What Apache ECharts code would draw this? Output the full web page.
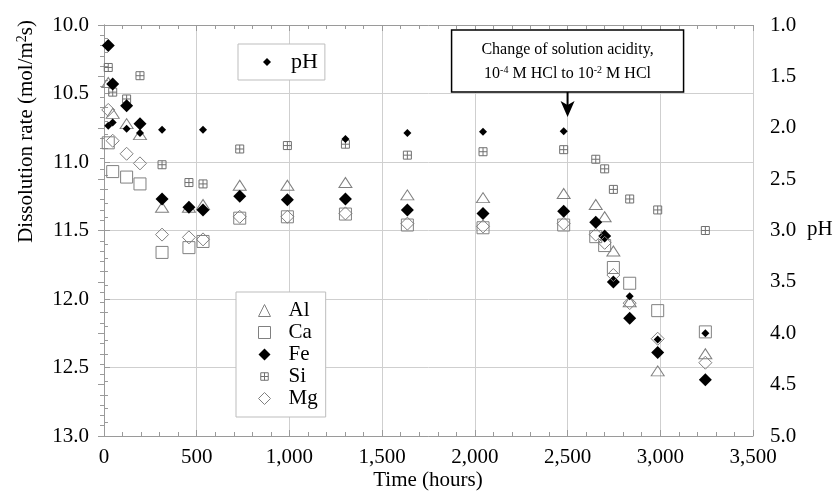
<!DOCTYPE html>
<html>
<head>
<meta charset="utf-8">
<script src="https://cdn.jsdelivr.net/npm/echarts@6/dist/echarts.min.js"></script>
<style>
  html, body { margin: 0; padding: 0; background: #fff; }
  #chart { width: 833px; height: 493px; }
</style>
</head>
<body>
<div id="chart"></div>
<script>
// Sampling times (hours) shared by all series
var hours = [23, 47, 122, 194, 313, 458, 534, 732, 989, 1302, 1636, 2044, 2479, 2652, 2700, 2747, 2835, 2986, 3243];

// Dissolution rates, -log(mol/m2s)
var rateAl = [10.42, 10.645, 10.72, 10.80, 11.33, 11.33, 11.31, 11.17, 11.17, 11.15, 11.24, 11.26, 11.23, 11.31, 11.40, 11.65, 12.02, 12.525, 12.40];
var rateCa = [10.86, 11.07, 11.11, 11.16, 11.66, 11.625, 11.58, 11.41, 11.40, 11.38, 11.46, 11.48, 11.46, 11.545, 11.61, 11.77, 11.885, 12.085, 12.24];
var rateFe = [10.15, 10.43, 10.59, 10.72, 11.27, 11.33, 11.35, 11.25, 11.275, 11.27, 11.35, 11.375, 11.36, 11.44, 11.54, 11.875, 12.14, 12.39, 12.59];
var rateSi = [10.31, 10.49, 10.54, 10.37, 11.02, 11.15, 11.16, 10.905, 10.88, 10.87, 10.95, 10.925, 10.91, 10.98, 11.05, 11.20, 11.27, 11.35, 11.50];
var rateMg = [10.62, 10.845, 10.94, 11.01, 11.53, 11.55, 11.565, 11.40, 11.40, 11.375, 11.45, 11.47, 11.45, 11.53, 11.59, 11.825, 12.03, 12.29, 12.465];

// Solution pH
var pH = [1.98, 1.95, 2.01, 2.05, 2.02, null, 2.02, null, null, 2.11, 2.05, 2.04, 2.035, null, null, null, 3.64, 4.06, 4.00];

// Axis ticks
var xTicks = [0, 500, 1000, 1500, 2000, 2500, 3000, 3500];
var rateTicks = [10.0, 10.5, 11.0, 11.5, 12.0, 12.5, 13.0];
var pHTicks = [1.0, 1.5, 2.0, 2.5, 3.0, 3.5, 4.0, 4.5, 5.0];

var arrowHours = 2500;

function pairs(vals) {
  var out = [];
  for (var i = 0; i < hours.length; i++) {
    if (vals[i] !== null) out.push([hours[i], vals[i]]);
  }
  return out;
}

var SERIF = '"Liberation Serif", "DejaVu Serif", serif';
var GREY = '#808080';
var FRAME = '#9a9a9a';
var GRID = '#cfcfcf';

var siPath = 'path://M0,0H10V10H0Z M5,0V10 M0,5H10';
// legend icon for Si: same glyph inside a wider empty box so it shows smaller
var siIcon = 'path://M-3,-3 M13,13 M0,0H10V10H0Z M5,0V10 M0,5H10';

function fmtThousands(v) {
  return String(v).replace(/\B(?=(\d{3})+(?!\d))/g, ',');
}

var chart = echarts.init(document.getElementById('chart'), null, { renderer: 'canvas' });

var hollow = function (c) { return { color: 'rgba(0,0,0,0)', borderColor: c, borderWidth: 1, opacity: 1 }; };
var solid = { color: '#000', opacity: 1 };

var option = {
  animation: false,
  backgroundColor: '#fff',
  grid: { left: 104, right: 80, top: 25, bottom: 57, containLabel: false },
  xAxis: [
    {
      type: 'value', position: 'bottom', min: xTicks[0], max: xTicks[xTicks.length - 1], interval: 500,
      axisLine: { lineStyle: { color: FRAME, width: 1 } },
      axisTick: { inside: true, length: 6, lineStyle: { color: FRAME } },
      minorTick: { show: true, splitNumber: 5, length: 4, lineStyle: { color: FRAME } },
      splitLine: { show: true, lineStyle: { color: GRID, width: 1 } },
      axisLabel: { margin: 11, color: '#000', fontFamily: SERIF, fontSize: 21, formatter: fmtThousands }
    },
    {
      type: 'value', position: 'top', min: xTicks[0], max: xTicks[xTicks.length - 1], interval: 500,
      axisLine: { show: true, lineStyle: { color: FRAME, width: 1 } },
      axisTick: { show: true, inside: true, length: 6, lineStyle: { color: FRAME } },
      minorTick: { show: true, splitNumber: 5, length: 4, lineStyle: { color: FRAME } },
      splitLine: { show: false },
      axisLabel: { show: false }
    }
  ],
  yAxis: [
    {
      type: 'value', position: 'left', inverse: true, min: rateTicks[0], max: rateTicks[rateTicks.length - 1], interval: 0.5,
      axisLine: { show: true, lineStyle: { color: FRAME, width: 1 } },
      axisTick: { show: true, inside: true, length: 6, lineStyle: { color: FRAME } },
      minorTick: { show: true, splitNumber: 5, length: 4, lineStyle: { color: FRAME } },
      splitLine: { show: true, lineStyle: { color: GRID, width: 1 } },
      axisLabel: { margin: 15, color: '#000', fontFamily: SERIF, fontSize: 21, formatter: function (v) { return v.toFixed(1); } }
    },
    {
      type: 'value', position: 'right', inverse: true, min: pHTicks[0], max: pHTicks[pHTicks.length - 1], interval: 0.5,
      axisLine: { show: true, lineStyle: { color: FRAME, width: 1 } },
      axisTick: { show: true, inside: true, length: 6, lineStyle: { color: FRAME } },
      minorTick: { show: true, splitNumber: 5, length: 4, lineStyle: { color: FRAME } },
      splitLine: { show: false },
      axisLabel: { margin: 17, color: '#000', fontFamily: SERIF, fontSize: 21, formatter: function (v) { return v.toFixed(1); } }
    }
  ],
  legend: [
    {
      data: [{ name: 'pH' }],
      orient: 'vertical', left: 238, top: 44,
      itemWidth: 8, itemHeight: 8, itemGap: 0,
      padding: [6, 7, 6, 25],
      borderColor: '#bdbdbd', borderWidth: 1, backgroundColor: '#fff',
      textStyle: { fontFamily: SERIF, fontSize: 22, color: '#000', lineHeight: 24, padding: [0, 0, 0, 15] },
      selectedMode: false
    },
    {
      data: [{ name: 'Al' }, { name: 'Ca' }, { name: 'Fe' }, { name: 'Si', icon: siIcon }, { name: 'Mg' }],
      orient: 'vertical', left: 236, top: 292,
      itemWidth: 12, itemHeight: 12, itemGap: 1,
      itemStyle: { borderWidth: 1 },
      padding: [8, 8, 8, 22],
      borderColor: '#bdbdbd', borderWidth: 1, backgroundColor: '#fff',
      textStyle: { fontFamily: SERIF, fontSize: 21, color: '#000', lineHeight: 21, padding: [0, 0, 0, 13] },
      selectedMode: false
    }
  ],
  series: [
    { name: 'Al', type: 'scatter', xAxisIndex: 0, yAxisIndex: 0, symbol: 'triangle', symbolSize: [13, 10], itemStyle: hollow(GREY), data: pairs(rateAl), z: 2 },
    { name: 'Ca', type: 'scatter', xAxisIndex: 0, yAxisIndex: 0, symbol: 'rect', symbolSize: 12, itemStyle: hollow(GREY), data: pairs(rateCa), z: 2 },
    { name: 'Fe', type: 'scatter', xAxisIndex: 0, yAxisIndex: 0, symbol: 'diamond', symbolSize: 13, itemStyle: solid, data: pairs(rateFe), z: 3 },
    { name: 'Si', type: 'scatter', xAxisIndex: 0, yAxisIndex: 0, symbol: siPath, symbolSize: 8, itemStyle: hollow('#707070'), data: pairs(rateSi), z: 2 },
    { name: 'Mg', type: 'scatter', xAxisIndex: 0, yAxisIndex: 0, symbol: 'diamond', symbolSize: 13, itemStyle: hollow(GREY), data: pairs(rateMg), z: 4 },
    { name: 'pH', type: 'scatter', xAxisIndex: 0, yAxisIndex: 1, symbol: 'diamond', symbolSize: 8, itemStyle: solid, data: pairs(pH), z: 5 }
  ]
};

chart.setOption(option);

// Axis titles and the annotation box with its arrow
var ax = chart.convertToPixel({ xAxisIndex: 0 }, arrowHours);
var boxW = 232, boxTop = 30, boxH = 62;

chart.setOption({
  graphic: [
    {
      type: 'text', left: 15, top: 20,
      rotation: Math.PI / 2,
      style: {
        text: 'Dissolution rate (mol/m{sup|2}s)',
        font: '21px ' + SERIF, fill: '#000',
        rich: { sup: { fontSize: 14, fontFamily: SERIF, verticalAlign: 'top', padding: [0, 0, 8, 0] } }
      }
    },
    {
      type: 'text', x: 428, y: 480,
      style: { text: 'Time (hours)', font: '21px ' + SERIF, fill: '#000', align: 'center', verticalAlign: 'middle' }
    },
    {
      type: 'text', x: 807, y: 229,
      style: { text: 'pH', font: '21px ' + SERIF, fill: '#000', align: 'left', verticalAlign: 'middle' }
    },
    {
      type: 'rect', shape: { x: ax - boxW / 2, y: boxTop, width: boxW, height: boxH },
      style: { fill: '#fff', stroke: '#000', lineWidth: 1.5 }, z: 10
    },
    {
      type: 'text', x: ax, y: 50, z: 11,
      style: { text: 'Change of solution acidity,', font: '16px ' + SERIF, fill: '#000', align: 'center', verticalAlign: 'middle' }
    },
    {
      type: 'text', x: ax, y: 74, z: 11,
      style: {
        text: '10{sup|-4} M HCl to 10{sup|-2} M HCl', font: '16px ' + SERIF, fill: '#000', align: 'center', verticalAlign: 'middle',
        rich: { sup: { fontSize: 10, fontFamily: SERIF, padding: [0, 0, 8, 0] } }
      }
    },
    {
      type: 'line', z: 10,
      shape: { x1: ax, y1: boxTop + boxH, x2: ax, y2: 110 },
      style: { stroke: '#000', lineWidth: 2 }
    },
    {
      type: 'polygon', z: 10,
      shape: { points: [[ax - 7, 101], [ax, 105], [ax + 7, 101], [ax, 117]] },
      style: { fill: '#000' }
    }
  ]
});
</script>
</body>
</html>
